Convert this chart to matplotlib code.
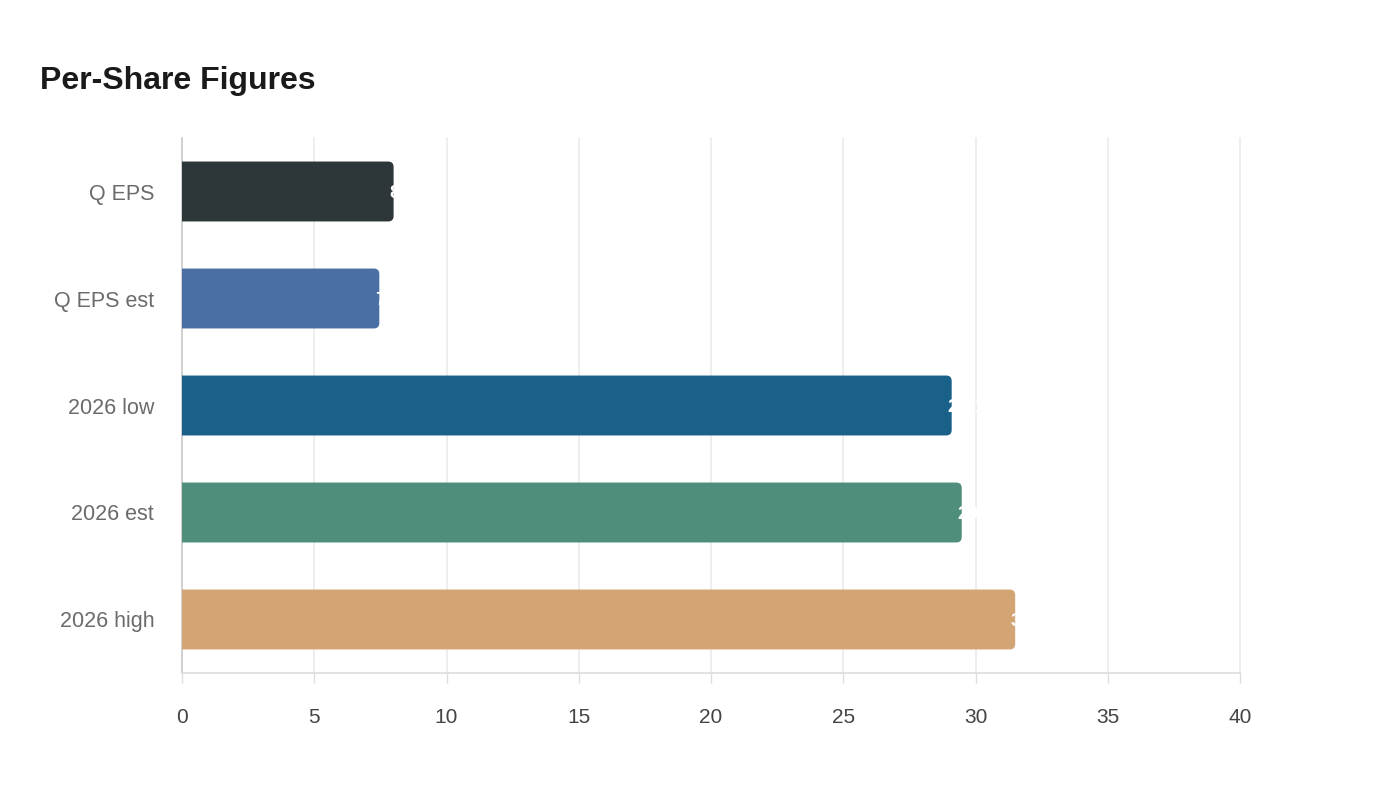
import matplotlib
matplotlib.use("Agg")
import matplotlib.pyplot as plt
from matplotlib.patches import FancyBboxPatch

categories = ["Q EPS", "Q EPS est", "2026 low", "2026 est", "2026 high"]
values = [8.0, 7.46, 29.1, 29.48, 31.5]
colors = ["#2d3639", "#4a6fa5", "#1a6189", "#4f8d7d", "#d4a574"]
xticks = [0, 5, 10, 15, 20, 25, 30, 35, 40]

plt.rcParams["font.family"] = ["Liberation Sans", "DejaVu Sans"]

fig = plt.figure(figsize=(14, 8), dpi=100)
ax = fig.add_axes([182 / 1400, 1 - 673 / 800, (1240 - 182) / 1400, (673 - 138) / 800])

ypos = list(range(len(categories)))
bars = ax.barh(ypos, values, height=0.56, color=colors, zorder=3)

ax.set_xlim(0, 40)
ax.set_ylim(len(categories) - 0.5, -0.5)

# px per data unit for rounded-corner aspect
px_x = (1240 - 182) / 40.0
px_y = (673 - 138) / len(categories)
r_px = 5.5
for b in bars:
    x0, y0, w, h = b.get_x(), b.get_y(), b.get_width(), b.get_height()
    fc = b.get_facecolor()
    b.remove()
    p = FancyBboxPatch((x0 - 0.5, y0), w + 0.5, h,
                       boxstyle=f"round,pad=0,rounding_size={r_px / px_x}",
                       mutation_aspect=px_x / px_y,
                       facecolor=fc, edgecolor="none", zorder=3)
    ax.add_patch(p)

for y, v in zip(ypos, values):
    ax.annotate(f"{v:.2f}", xy=(v, y), xytext=(-3, 0), textcoords="offset points",
                ha="left", va="center_baseline", color="white", fontsize=14,
                fontweight="bold", zorder=4)

ax.set_yticks(ypos)
ax.set_yticklabels(categories)
ax.set_xticks(xticks)
ax.set_xticklabels([str(t) for t in xticks])

ax.grid(axis="x", color="#ebebeb", linewidth=1.2, zorder=0)
for gl in ax.get_xgridlines():
    gl.set_clip_on(False)
ax.set_axisbelow(True)
for s in ["top", "right"]:
    ax.spines[s].set_visible(False)
ax.spines["left"].set_color("#cccccc")
ax.spines["bottom"].set_color("#dddddd")
ax.spines["left"].set_linewidth(1.2)
ax.spines["bottom"].set_linewidth(1.2)

ax.tick_params(axis="y", length=0, pad=20, labelsize=15.5, labelcolor="#6b6b6b")
ax.tick_params(axis="x", length=7, width=1, color="#dddddd", pad=18,
               labelsize=15, labelcolor="#444444")

fig.text(40 / 1400, 1 - 81 / 800, "Per-Share Figures", fontsize=23,
         fontweight="bold", color="#1a1a1a", ha="left", va="center")

fig.savefig("out.png", dpi=100, facecolor="white")
